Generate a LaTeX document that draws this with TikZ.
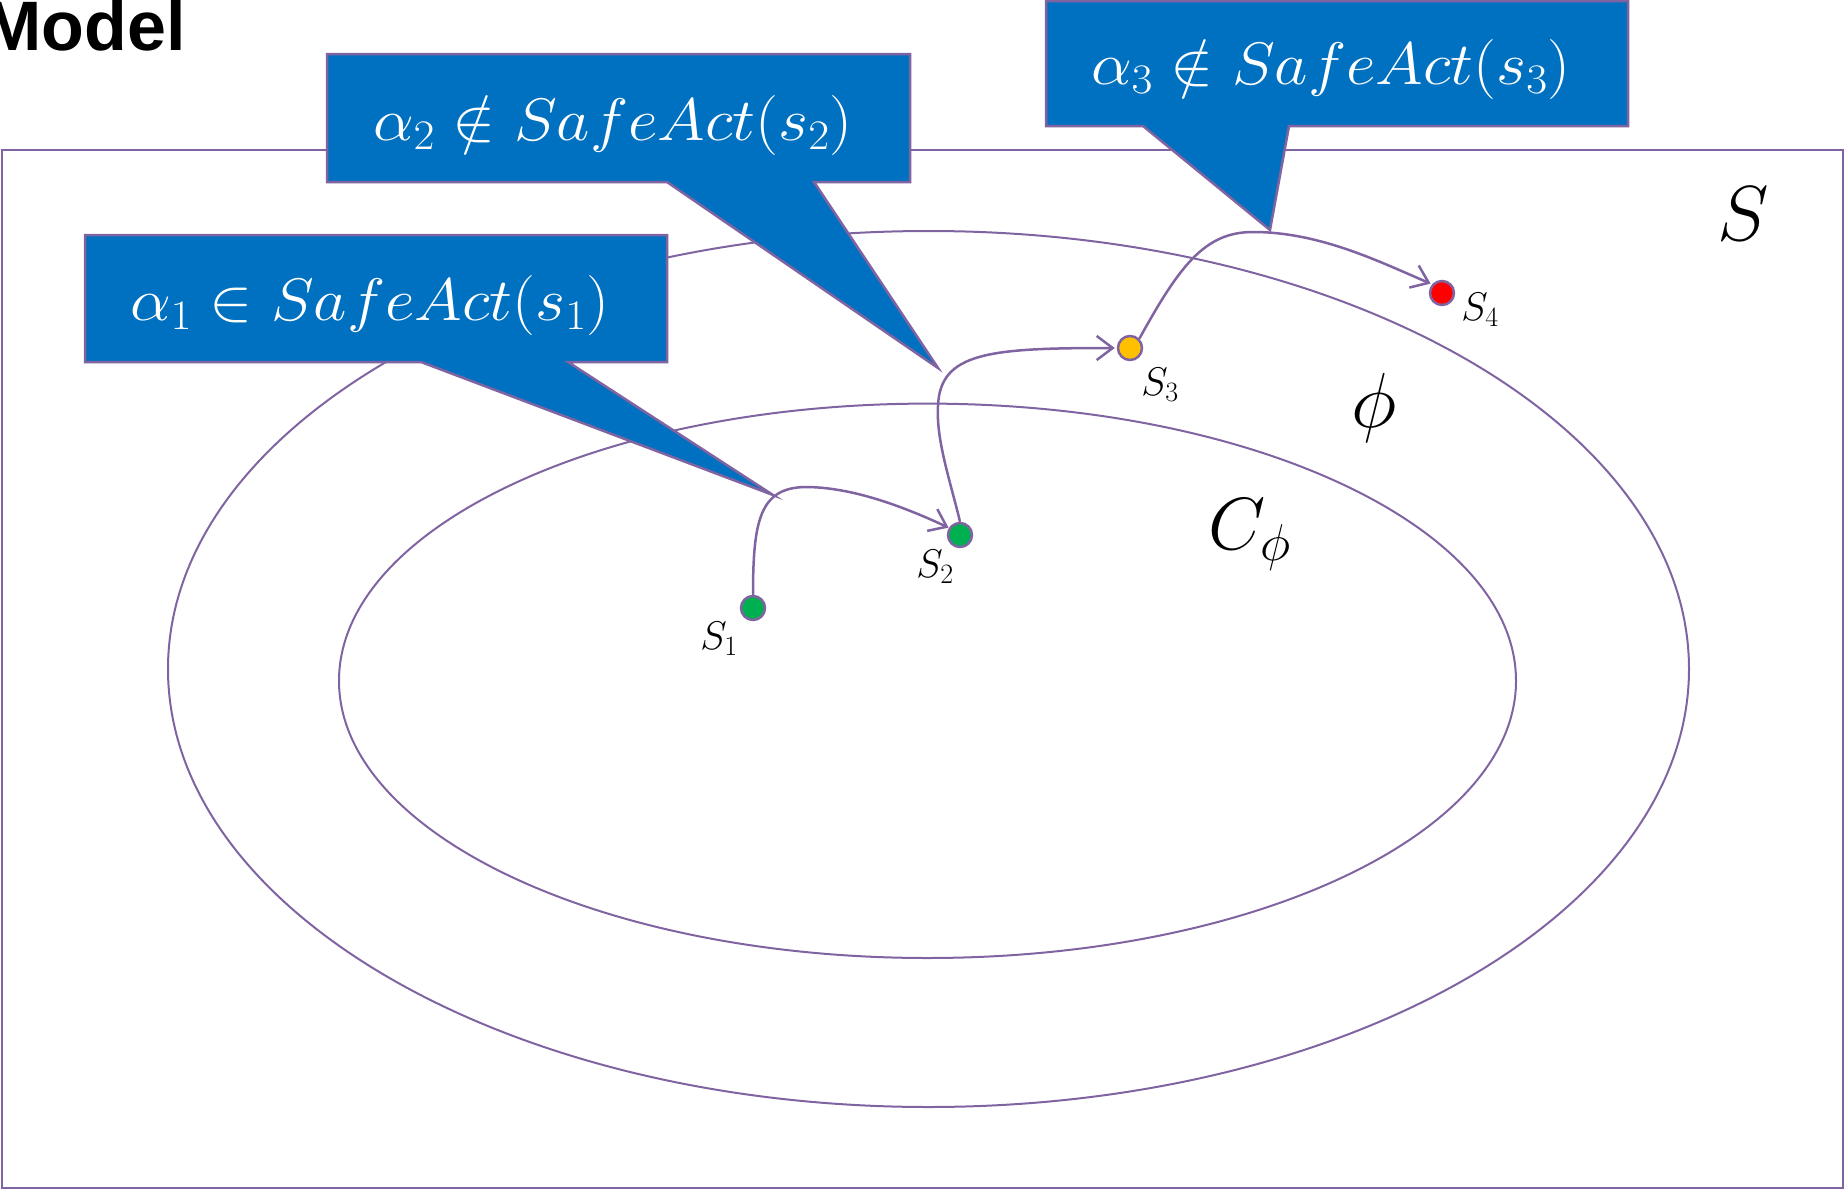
\documentclass[tikz,border=0pt]{standalone}
\usepackage{fix-cm}
\usepackage{fontspec}
\newfontfamily\arialfont{Liberation Sans}
\usetikzlibrary{arrows.meta}
\definecolor{lilac}{HTML}{8064A2}
\definecolor{boxblue}{HTML}{0070C0}
\definecolor{dotgreen}{HTML}{00B050}
\definecolor{dotyellow}{HTML}{FFC000}
\definecolor{dotred}{HTML}{FF0000}
\tikzset{
  outline/.style={draw=lilac, line width=2pt},
  callout/.style={draw=lilac, fill=boxblue, line width=2.5pt, line join=miter},
  callouttext/.style={text=white, inner sep=0pt, font=\fontsize{60}{64}\selectfont},
  statedot/.style={circle, draw=lilac, line width=2.5pt, minimum size=24pt, inner sep=0pt},
  statelabel/.style={inner sep=0pt, font=\fontsize{40}{44}\selectfont},
  biglabel/.style={inner sep=0pt, font=\fontsize{78}{82}\selectfont},
  transition/.style={draw=lilac, line width=2.5pt, -{Straight Barb[length=16pt,width=24pt,line width=2.5pt]}},
}
\begin{document}
\begin{tikzpicture}[x=1pt,y=-1pt]
\useasboundingbox (0,0) rectangle (1845,1191);
% title
\node[anchor=base east, inner sep=0pt, font=\arialfont\bfseries\fontsize{70}{74}\selectfont] (title) at (186,50) {Model};
% state space
\draw[outline] (2,150) rectangle (1843,1188);
\draw[outline] (928.5,669) ellipse [x radius=760.5, y radius=438];
\draw[outline] (927.5,680.8) ellipse [x radius=588.5, y radius=277.2];
% callouts
\draw[callout] (85,235) -- (667,235) -- (667,362) -- (568,362) -- (773,495) -- (421,362) -- (85,362) -- cycle;
\draw[callout] (327,54) -- (910,54) -- (910,182) -- (814,182) -- (938,368) -- (667,182) -- (327,182) -- cycle;
\draw[callout] (1046,1) -- (1628,1) -- (1628,126) -- (1289,126) -- (1270,230) -- (1143,126) -- (1046,126) -- cycle;
\node[callouttext] (c1) at (370,305) {\scalebox{1.08}[1]{$\alpha_1 \in SafeAct(s_1)$}};
\node[callouttext] (c2) at (613,126) {\scalebox{1.08}[1]{$\alpha_2 \notin SafeAct(s_2)$}};
\node[callouttext] (c3) at (1331,70) {\scalebox{1.08}[1]{$\alpha_3 \notin SafeAct(s_3)$}};
% labels
\node[biglabel] (lS) at (1743,214) {$S$};
\node[biglabel] (lphi) at (1374,408) {$\phi$};
\node[biglabel, font=\fontsize{74}{78}\selectfont] (lC) at (1250,535) {$C_\phi$};
% states
\node[statedot, fill=dotgreen] (s1) at (753,608) {};
\node[statedot, fill=dotgreen] (s2) at (960,535) {};
\node[statedot, fill=dotyellow] (s3) at (1130,348) {};
\node[statedot, fill=dotred] (s4) at (1442,293) {};
\node[statelabel] (l1) at (719,639) {$S_1$};
\node[statelabel] (l2) at (935,567) {$S_2$};
\node[statelabel] (l3) at (1160,385) {$S_3$};
\node[statelabel] (l4) at (1480,310) {$S_4$};
% transitions
\coordinate (k1) at (805,487);
\coordinate (k2) at (938,406);
\coordinate (k3) at (1253,232);
\draw[transition] (s1.north) .. controls (753,520) and (760,488) .. (k1) .. controls (850,487) and (900,505) .. ([xshift=-2pt,yshift=-2pt]s2.north west);
\draw[transition] (s2.north) .. controls (950,480) and (936,440) .. (k2) .. controls (940,352) and (990,348) .. ([xshift=-2pt]s3.west);
\draw[transition] (s3.north east) .. controls (1180,265) and (1205,232) .. (k3) .. controls (1320,232) and (1380,262) .. ([xshift=-2pt]s4.north west);
\end{tikzpicture}
\end{document}
